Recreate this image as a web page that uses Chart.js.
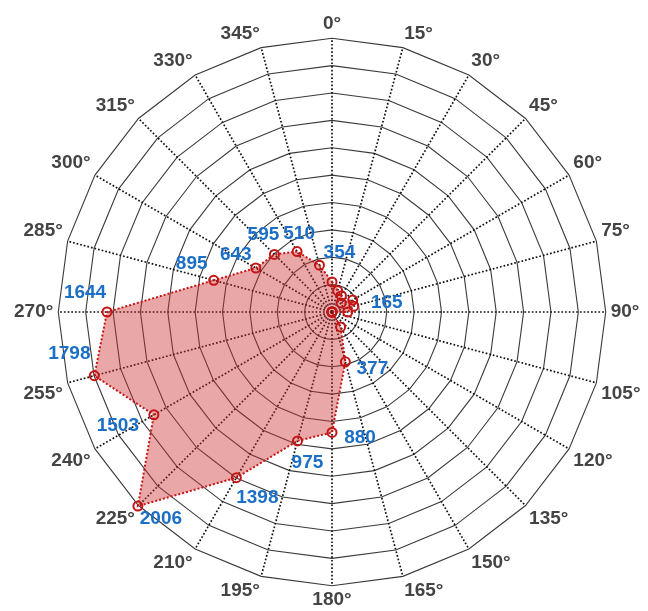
<!DOCTYPE html>
<html>
<head>
<meta charset="utf-8">
<script src="https://cdn.jsdelivr.net/npm/chart.js@4/dist/chart.umd.min.js"></script>
<style>
  html, body { margin: 0; padding: 0; background: #ffffff; }
  #wrap { width: 648px; height: 611px; }
</style>
</head>
<body>
<div id="wrap"><canvas id="rose" width="648" height="611"></canvas></div>
<script>
// Direction sectors, clockwise from north, every 15 degrees
const directions = ["0°", "15°", "30°", "45°", "60°", "75°", "90°", "105°", "120°", "135°", "150°", "165°",
                    "180°", "195°", "210°", "225°", "240°", "255°", "270°", "285°", "300°", "315°", "330°", "345°"];

// Count per direction sector
const counts = [220, 160, 138, 94, 175, 165, 115, 0, 0, 0, 126, 377,
                880, 975, 1398, 2006, 1503, 1798, 1644, 895, 643, 595, 510, 354];

// Radial axis range and ring spacing
const radialMax = 2000;
const ringStep = 200;

// Sectors whose count is printed beside the marker
const labelledSectors = [5, 11, 12, 13, 14, 15, 16, 17, 18, 19, 20, 21, 22, 23];

// Pixel offset of each printed count from its marker
const labelOffsets = {
  5: [33, -3], 11: [27, 7], 12: [28, 5], 13: [10, 22], 14: [21, 20], 15: [23, 13],
  16: [-36, 11], 17: [-25, -22], 18: [-22, -19], 19: [-22, -17], 20: [-20, -13],
  21: [-11, -20], 22: [2, -18], 23: [20, -12]
};

const countLabels = {
  id: 'countLabels',
  afterDatasetsDraw(chart) {
    const ctx = chart.ctx;
    const meta = chart.getDatasetMeta(0);
    ctx.save();
    ctx.font = 'bold 19px "Liberation Sans", Arial, sans-serif';
    ctx.fillStyle = '#1c6fc6';
    ctx.textAlign = 'center';
    ctx.textBaseline = 'middle';
    labelledSectors.forEach(i => {
      const pt = meta.data[i];
      const off = labelOffsets[i] || [0, 0];
      ctx.fillText(String(counts[i]), pt.x + off[0], pt.y + off[1]);
    });
    ctx.restore();
  }
};

new Chart(document.getElementById('rose'), {
  type: 'radar',
  data: {
    labels: directions,
    datasets: [{
      data: counts,
      fill: true,
      backgroundColor: 'rgba(205, 45, 45, 0.42)',
      borderColor: '#c41414',
      borderWidth: 2,
      borderDash: [2, 2],
      pointRadius: 4.5,
      pointBorderWidth: 2,
      pointBorderColor: '#c41414',
      pointBackgroundColor: 'rgba(0,0,0,0)',
      tension: 0
    }]
  },
  options: {
    responsive: false,
    animation: false,
    layout: { padding: { top: 13, left: 9, right: 2, bottom: 0 } },
    plugins: { legend: { display: false }, tooltip: { enabled: false } },
    scales: {
      r: {
        min: 0,
        max: radialMax,
        ticks: { display: false, stepSize: ringStep },
        grid: { circular: false, color: '#3a3a3a', lineWidth: 1.1 },
        angleLines: { color: '#111111', lineWidth: 1.7, borderDash: [1.7, 2] },
        pointLabels: {
          color: '#444444',
          padding: 5,
          font: { family: '"Liberation Sans", Arial, sans-serif', size: 19, weight: 'bold', lineHeight: 1 }
        }
      }
    }
  },
  plugins: [countLabels]
});
</script>
</body>
</html>
